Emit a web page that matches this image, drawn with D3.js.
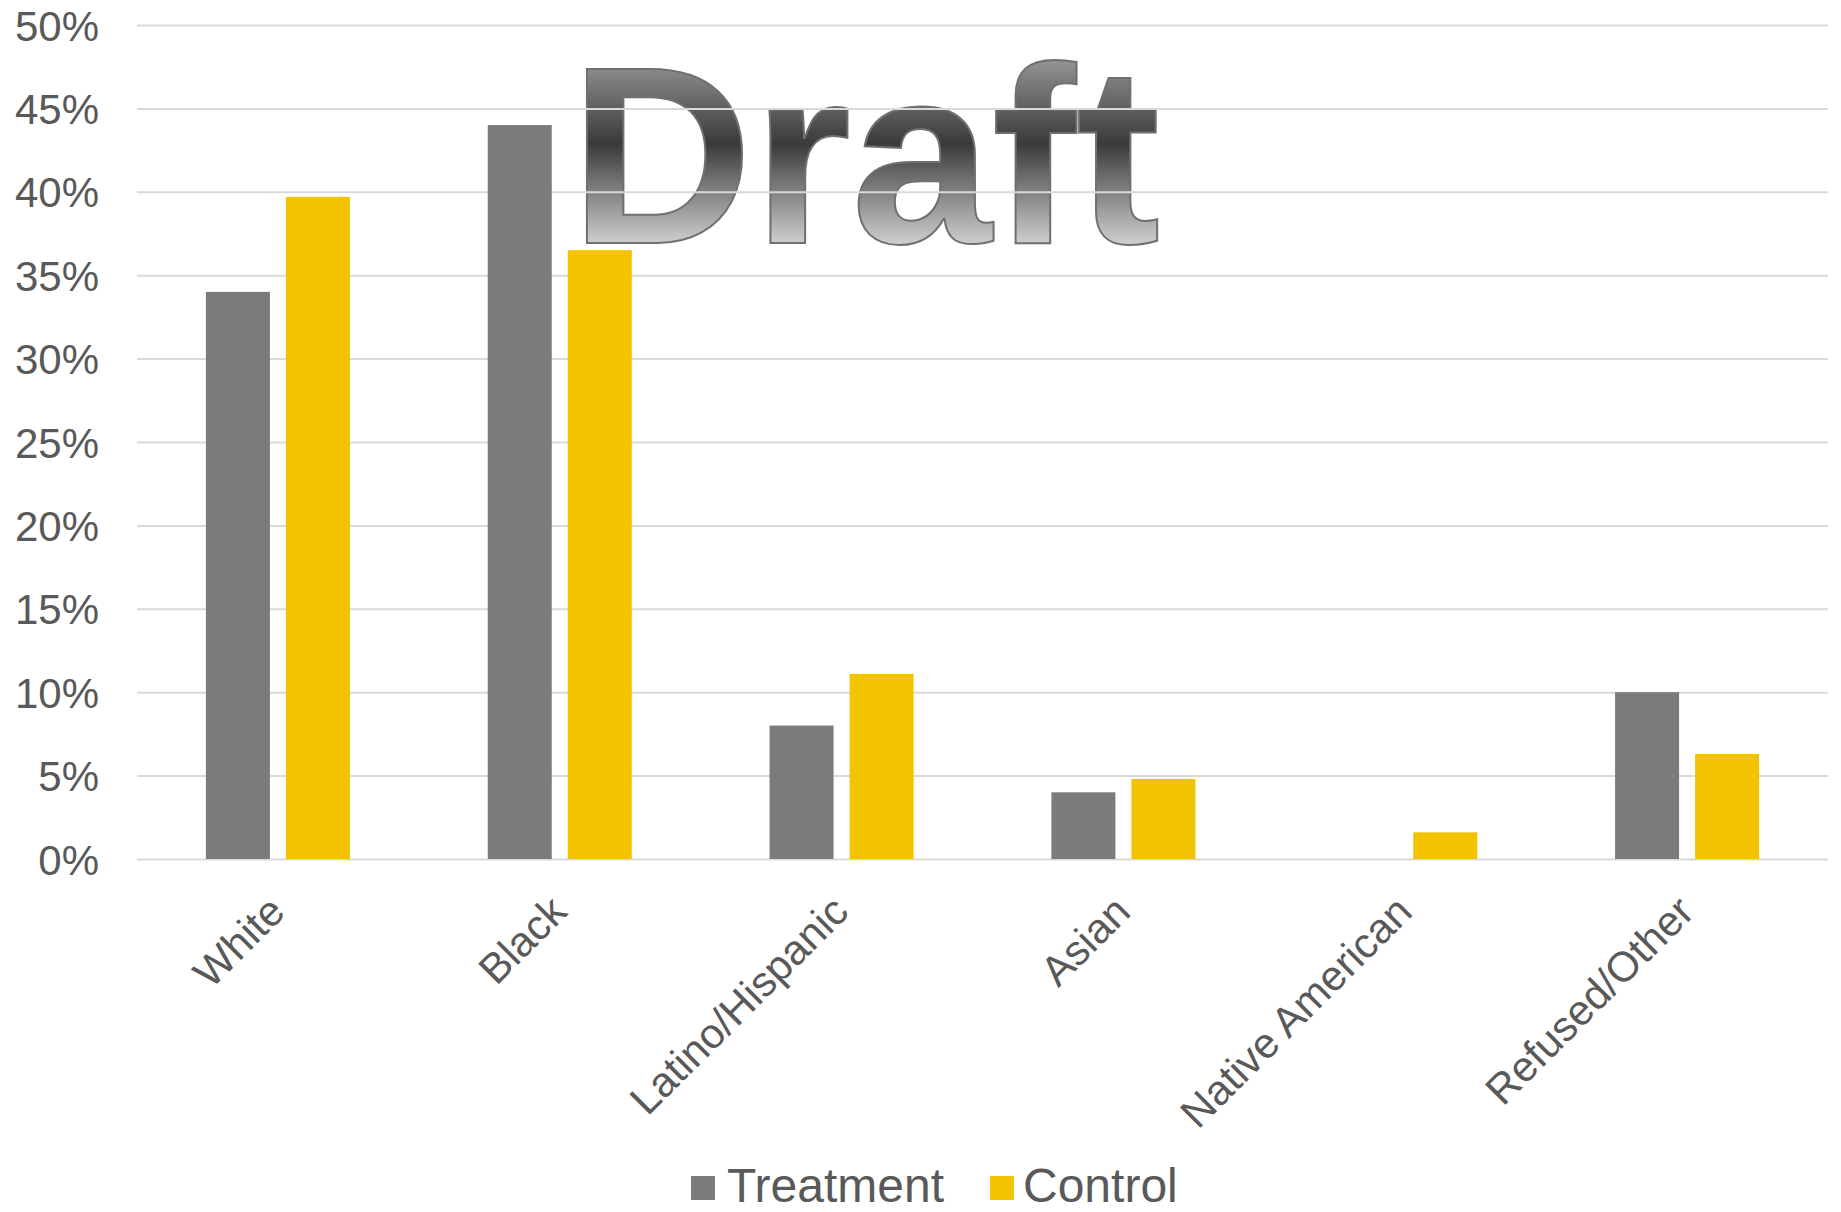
<!DOCTYPE html>
<html>
<head>
<meta charset="utf-8">
<script src="https://cdn.jsdelivr.net/npm/d3@7"></script>
<style>
  html, body { margin: 0; padding: 0; background: #ffffff; }
  svg { display: block; font-family: "Liberation Sans", Arial, sans-serif; }
</style>
</head>
<body>
<svg id="chart" width="1841" height="1212"></svg>
<script>
// ---- data ----
const categories = ["White", "Black", "Latino/Hispanic", "Asian", "Native American", "Refused/Other"];
const seriesNames = ["Treatment", "Control"];
const treatmentValues = [0.340, 0.440, 0.080, 0.040, 0.000, 0.100];
const controlValues   = [0.397, 0.365, 0.111, 0.048, 0.016, 0.063];
const yTicks = [0, 0.05, 0.10, 0.15, 0.20, 0.25, 0.30, 0.35, 0.40, 0.45, 0.50];
const watermarkText = "Draft";

const colors = { Treatment: "#7b7b7b", Control: "#f3c300" };
const textColor = "#595959";
const gridColor = "#d9d9d9";

const svg = d3.select("#chart");
const plotLeft = 137, plotRight = 1828, plotTop = 25, plotBottom = 859;

const x0 = d3.scaleBand().domain(categories).range([plotLeft, plotRight]).padding(0);
const x1 = d3.scaleBand().domain(seriesNames).range([0, x0.bandwidth()])
  .paddingInner(0.2).paddingOuter(0.861);
const y = d3.scaleLinear().domain([0, 0.5]).range([plotBottom, plotTop]);

// ---- watermark (drawn first; gridlines overlay it) ----
const defs = svg.append("defs");
const grad = defs.append("linearGradient")
  .attr("id", "draftGrad")
  .attr("gradientUnits", "userSpaceOnUse")
  .attr("x1", 0).attr("y1", 52).attr("x2", 0).attr("y2", 246);
grad.append("stop").attr("offset", 0).attr("stop-color", "#9c9c9c");
grad.append("stop").attr("offset", 0.47).attr("stop-color", "#3a3a3a");
grad.append("stop").attr("offset", 1).attr("stop-color", "#d2d2d2");

svg.append("text")
  .attr("x", 570)
  .attr("y", 243)
  .attr("font-size", 253)
  .attr("font-weight", "bold")
  .attr("fill", "url(#draftGrad)")
  .attr("stroke", "#707070")
  .attr("stroke-width", 2)
  .text(watermarkText);

// ---- gridlines ----
const yAxis = d3.axisLeft(y).tickValues(yTicks).tickSize(-(plotRight - plotLeft))
  .tickFormat(d3.format(".0%")).tickPadding(38);
const gy = svg.append("g").attr("transform", `translate(${plotLeft},0)`).call(yAxis);
gy.select(".domain").remove();
gy.selectAll(".tick line").attr("stroke", gridColor).attr("stroke-width", 2);
gy.selectAll(".tick text")
  .attr("fill", textColor)
  .attr("font-size", 42)
  .attr("font-family", "'Liberation Sans', Arial, sans-serif")
  .attr("dy", "0.36em");

// ---- bars ----
const rows = categories.map((c, i) => ({ cat: c, Treatment: treatmentValues[i], Control: controlValues[i] }));
const groups = svg.append("g").selectAll("g").data(rows).join("g")
  .attr("transform", d => `translate(${x0(d.cat)},0)`);
groups.selectAll("rect")
  .data(d => seriesNames.map(s => ({ s, v: d[s] })))
  .join("rect")
  .attr("x", d => x1(d.s))
  .attr("width", x1.bandwidth())
  .attr("y", d => y(d.v))
  .attr("height", d => y(0) - y(d.v))
  .attr("fill", d => colors[d.s]);

// ---- category labels ----
const xAxis = d3.axisBottom(x0).tickSize(0).tickPadding(0);
const gx = svg.append("g").attr("transform", `translate(0,${plotBottom})`).call(xAxis);
gx.select(".domain").remove();
gx.selectAll(".tick text")
  .attr("fill", textColor)
  .attr("font-size", 42)
  .attr("font-family", "'Liberation Sans', Arial, sans-serif")
  .attr("text-anchor", "end")
  .attr("dy", null)
  .attr("y", null)
  .attr("transform", "translate(9,55) rotate(-45)");

// ---- legend ----
const legendItems = [
  { name: "Treatment", sx: 691, tx: 727 },
  { name: "Control", sx: 990, tx: 1023 }
];
const lg = svg.append("g");
lg.selectAll("rect").data(legendItems).join("rect")
  .attr("x", d => d.sx).attr("y", 1176)
  .attr("width", 24).attr("height", 24)
  .attr("fill", d => colors[d.name]);
lg.selectAll("text").data(legendItems).join("text")
  .attr("x", d => d.tx).attr("y", 1202)
  .attr("font-size", 48)
  .attr("fill", textColor)
  .text(d => d.name);
</script>
</body>
</html>
